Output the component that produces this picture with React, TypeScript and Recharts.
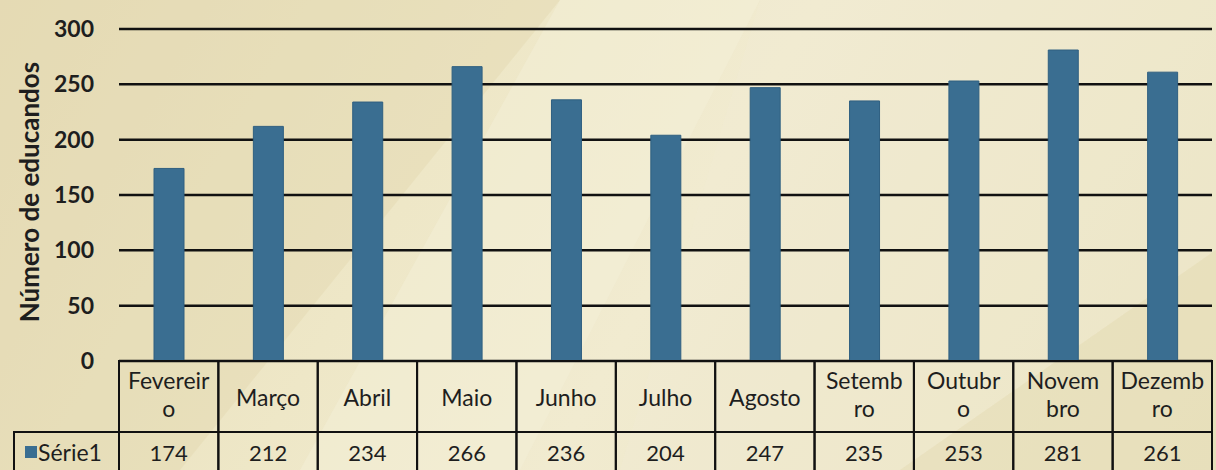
import React from "react";
import { BarChart, Bar, XAxis, YAxis, CartesianGrid } from "recharts";

// monthly data
const months = [
  "Fevereiro", "Março", "Abril", "Maio", "Junho", "Julho",
  "Agosto", "Setembro", "Outubro", "Novembro", "Dezembro",
];
// Excel wraps the long month names in the data table
const monthLabels = [
  ["Fevereir", "o"], ["Março"], ["Abril"], ["Maio"], ["Junho"], ["Julho"],
  ["Agosto"], ["Setemb", "ro"], ["Outubr", "o"], ["Novem", "bro"], ["Dezemb", "ro"],
];
const serie1 = [174, 212, 234, 266, 236, 204, 247, 235, 253, 281, 261];
const yTicks = [0, 50, 100, 150, 200, 250, 300];
const seriesName = "Série1";
const yTitle = "Número de educandos";

const data = months.map((m, i) => ({ month: m, value: serie1[i] }));

const FONT = "Lato, 'Open Sans', sans-serif";
const BAR = "#3a6e91";
const INK = "#1e1e1e";

// draws one column of the data table under the plot
function TableTick(props: any) {
  const { x, y, payload } = props;
  const i = props.index ?? payload.index ?? 0;
  const hw = payload.offset || 49.7;
  const headH = 71;
  const lines = monthLabels[i];
  return (
    <g fontFamily={FONT} fill={INK}>
      <rect x={x - hw} y={y} width={hw * 2} height={headH} fill="none" stroke="#111" strokeWidth={2} />
      <rect x={x - hw} y={y + headH} width={hw * 2} height={60} fill="none" stroke="#111" strokeWidth={2} />
      {lines.map((l, k) => (
        <text
          key={k}
          x={x}
          y={lines.length === 1 ? y + 36 : y + 19 + k * 28}
          textAnchor="middle"
          dominantBaseline="central"
          fontSize={23}
        >
          {l}
        </text>
      ))}
      <text x={x} y={y + 91} textAnchor="middle" dominantBaseline="central" fontSize={22}>
        {serie1[i]}
      </text>
      {i === 0 && (
        <g>
          <rect x={14} y={y + headH} width={x - hw - 14} height={60} fill="none" stroke="#111" strokeWidth={2} />
          <rect x={25} y={y + 85} width={12} height={12} fill={BAR} />
          <text x={38} y={y + 91} dominantBaseline="central" fontSize={23}>{seriesName}</text>
        </g>
      )}
    </g>
  );
}

function YTitle(props: any) {
  const vb = props.viewBox || {};
  const cy = (vb.y ?? 29) + (vb.height ?? 332) / 2 - 3;
  return (
    <text
      x={29}
      y={cy}
      transform={`rotate(-90, 29, ${cy})`}
      textAnchor="middle"
      dominantBaseline="central"
      fontFamily={FONT}
      fontWeight={700}
      fontSize={26}
      fill={INK}
    >
      {yTitle}
    </text>
  );
}

export default function App() {
  return (
    <div
      style={{
        position: "absolute",
        left: 0,
        top: 0,
        width: 1216,
        height: 470,
        overflow: "hidden",
        background: "linear-gradient(120deg, #e7ddb8 0%, #eee7c7 35%, #f1ebd0 55%, #eae2bf 100%)",
      }}
    >
      {/* faint facets like the Office theme texture */}
      <svg width={1216} height={470} style={{ position: "absolute", left: 0, top: 0 }}>
        <polygon points="0,0 560,0 180,470 0,470" fill="#e2d8b0" opacity={0.45} />
        <polygon points="560,0 760,0 520,470 300,470" fill="#f4efd8" opacity={0.5} />
        <polygon points="760,0 1216,0 1216,250 900,470 620,470" fill="#f2ecd3" opacity={0.35} />
        <polygon points="1216,250 1216,470 900,470" fill="#e4dbb5" opacity={0.45} />
      </svg>
      <div style={{ position: "absolute", left: 0, top: 0 }}>
        <BarChart
          width={1216}
          height={470}
          data={data}
          margin={{ top: 29, right: 4, left: 0, bottom: 0 }}
        >
          <CartesianGrid vertical={false} stroke="#111" strokeWidth={2.5} />
          <XAxis
            dataKey="month"
            height={109}
            interval={0}
            tickLine={false}
            axisLine={false}
            tickSize={0}
            tickMargin={0}
            tick={<TableTick />}
          />
          <YAxis
            width={119}
            domain={[0, 300]}
            ticks={yTicks}
            tickLine={false}
            axisLine={false}
            tickSize={0}
            tickMargin={25}
            tick={{ fontFamily: FONT, fontWeight: 700, fontSize: 23, fill: INK }}
            label={<YTitle />}
          />
          <Bar
            dataKey="value"
            fill={BAR}
            stroke="#2f5f80"
            strokeWidth={1}
            barSize={30}
            isAnimationActive={false}
          />
        </BarChart>
      </div>
    </div>
  );
}
